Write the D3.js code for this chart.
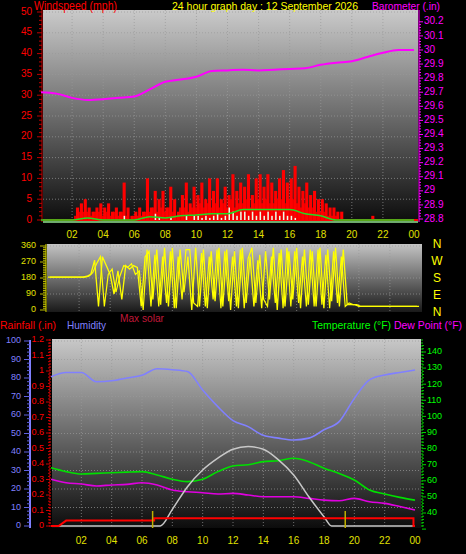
<!DOCTYPE html>
<html><head><meta charset="utf-8">
<script src="https://cdn.jsdelivr.net/npm/d3@7"></script>
<style>body{margin:0;background:#000}svg{display:block}text{font-family:"Liberation Sans",Arial,sans-serif}</style>
</head><body><svg id="c" width="466" height="554"></svg>
<script>
const barometer = [29.70,29.69,29.66,29.645,29.65,29.66,29.67,29.72,29.775,29.79,29.81,29.85,29.855,29.86,29.855,29.86,29.865,29.87,29.895,29.91,29.92,29.95,29.98,30.0,30.0];
const gust = [0,0,0,0, 0,0,0,0, 0,3,4,5, 3,2,3,4, 3,4,2,3, 2,9,3,1, 2,3,2,10, 3,7,5,7, 3,8,5,2, 6,9,4,8, 6,9,5,10, 7,10,5,8, 6,11,7,9, 8,11,6,10, 11,8,11,9, 7,10,12,9, 10,13,8,7, 9,6,7,5, 5,4,3,3, 2,2,0,0, 0,0,0,0, 0,1,0,0, 0,0,0,0, 0,0,0,0, 0,0,0,0];
const gustLow = [0,0,0,0, 0,0,0,0, 0,1,2,2, 2,1,2,2, 1,2,1,2, 1,2,1,0, 1,1,1,2, 2,3,2,3, 2,3,2,1, 3,3,2,3, 3,4,3,4, 3,4,3,4, 3,5,3,4, 4,5,3,4, 5,4,5,4, 4,5,5,4, 5,5,4,3, 4,3,3,2, 2,2,1,1, 1,0,0,0, 0,0,0,0, 0,0,0,0, 0,0,0,0, 0,0,0,0, 0,0,0,0];
const windSpeed = [0,0,0,0, 0,0,0,0, 0,0,0,0, 0,0,0,0, 0,0,0,0, 0,1,0,0, 0,0,0,0, 0,1.5,0.5,0, 0,0.5,0,0, 0,1,0,1, 1,0.5,1,0.5, 1,1.5,0.5,1, 3,2,1,2, 2,1,2,1, 2,1,2,1, 2,1,2,1, 1,0.5,0,0, 0,0,0,0, 0,0,0,0, 0,0,0,0, 0,0,0,0, 0,0,0,0, 0,0,0,0];
const windAvg = [0,0,0,0.5,0,0,0,0.8,0.5,1,1.2,1.5,1.5,2.5,2.5,2.5,2.5,1.5,1,0,0,0,0,0,0];
const direction = [185,185,185,185, 185,185,185,185, 185,185,190,200, 280,20,300,250, 200,90,220,60, 250,230,250,240, 20,300,330,60, 340,30,350,20, 350,10,340,100, 300,0,350,20, 340,10,330,50, 350,20,340,0, 330,10,350,40, 300,20,280,10, 330,60,350,0, 340,20,330,60, 350,10,340,30, 330,20,350,10, 340,50,350,20, 340,30,30,30, 20,20,20,20, 20,20,20,20, 20,20,20,20, 20,20,20,20];
const direction2 = [185,185,185,185, 185,185,185,185, 185,185,190,210, 260,300,20,200, 230,100,190,250, 240,260,200,220, 0,340,20,310, 20,300,40,330, 10,300,60,340, 340,40,20,320, 20,300,60,340, 10,330,50,300, 20,340,10,290, 350,40,310,60, 20,300,40,320, 10,350,20,330, 40,300,20,340, 20,340,30,310, 10,330,40,300, 20,40,30,30, 20,20,20,20, 20,20,20,20, 20,20,20,20, 20,20,20,20];
const humidity = [80.7,83,83,78,78.5,80,81.5,85,84.5,83.5,73.5,64.5,57,53.7,49,47.5,46.5,47.5,52,56.4,69,79,81.6,83,84.3];
const temperature = [68.1,65.7,64.2,64.6,65,65.4,65.7,63.6,61,59.5,61,65.7,69.2,70,71.9,72.5,74,71.9,67.8,64.6,60.5,54.3,51.8,49.7,48];
const dewPoint = [61,58.8,58,56.8,57.4,57.8,58.8,57.4,54.3,53.2,52.6,51.8,52.2,51.2,50.1,50.1,50.1,49.1,48,47.6,49.1,47,46,44,41.9];
const solarT = [0,7.2,8,9,10,11,12,13,14,15,16,17,18,18.5,24];
const solar = [0,0,108,255,363,440,498,515,498,429,331,190,60,0,0];
const rainT = [0,0.5,1,6.8,6.8,23.9,23.9,24];
const rain = [0,0,0.035,0.035,0.05,0.05,0,0];
const sunMarks = [6.7,19.4];
const hourTicks = [2,4,6,8,10,12,14,16,18,20,22,24];
const windTicks = [0,5,10,15,20,25,30,35,40,45,50];
const baroTicks = [28.8,28.9,29.0,29.1,29.2,29.3,29.4,29.5,29.6,29.7,29.8,29.9,30.0,30.1,30.2];
const dirTicks = [0,90,180,270,360];
const compass = ["N","W","S","E","N"];
const humTicks = [0,10,20,30,40,50,60,70,80,90,100];
const rainTicks = [0,0.1,0.2,0.3,0.4,0.5,0.6,0.7,0.8,0.9,1,1.1,1.2];
const tempTicks = [40,50,60,70,80,90,100,110,120,130,140];

const svg = d3.select("#c");
const defs = svg.append("defs");
function grad(id, c1, c2){
  const g = defs.append("linearGradient").attr("id",id).attr("x1",0).attr("y1",0).attr("x2",0).attr("y2",1);
  g.append("stop").attr("offset","0%").attr("stop-color",c1);
  g.append("stop").attr("offset","100%").attr("stop-color",c2);
}
grad("g1","#cacaca","#0c0c0c"); grad("g2","#c4c4c4","#1a1a1a"); grad("g3","#c8c8c8","#0c0c0c");
const hl = h => h===24?"00":String(h).padStart(2,"0");
function txt(x,y,s,fill,size,anchor,len){const t=svg.append("text").attr("x",x).attr("y",y).text(s).attr("fill",fill).attr("font-size",size).attr("text-anchor",anchor||"start").attr("dominant-baseline","middle");
  if(len) t.attr("textLength",len).attr("lengthAdjust","spacingAndGlyphs"); return t;}
function panel(x0,x1,y0,y1,gid,xs,yTicksPx,ly){
  svg.append("rect").attr("x",x0).attr("y",y0).attr("width",x1-x0).attr("height",y1-y0).attr("fill","url(#"+gid+")");
  const g=svg.append("g").attr("stroke","#9a9a9a").attr("stroke-width",1).attr("stroke-dasharray","1,2").attr("opacity",0.7);
  hourTicks.slice(0,11).forEach(h=>g.append("line").attr("x1",xs(h)).attr("x2",xs(h)).attr("y1",y0).attr("y2",y1));
  yTicksPx.forEach(y=>g.append("line").attr("x1",x0).attr("x2",x1).attr("y1",y).attr("y2",y));
  if(ly) hourTicks.forEach(h=>txt(xs(h),ly,hl(h),"#e0e000",10,"middle"));
}
// ---------- top
const xT=d3.scaleLinear().domain([0,24]).range([41,414]);
const yW=d3.scaleLinear().domain([0,50]).range([220,12]);
const yB=d3.scaleLinear().domain([28.8,30.2]).range([219,21.8]);
panel(43,418,10,222,"g1",xT,windTicks.slice(1).map(yW),235);
txt(34,7,"Windspeed (mph)","#ff0000",12,"start",83); txt(172,7,"24 hour graph day : 12 September 2026","#ffff00",11,"start",186); txt(372,7,"Barometer (.in)","#ff00ff",11,"start",68);
windTicks.forEach(v=>txt(32,yW(v),v,"#ff0000",10,"end"));
d3.range(0,51).forEach(v=>svg.append("line").attr("x1",v%5?39:37).attr("x2",42).attr("y1",yW(v)).attr("y2",yW(v)).attr("stroke","#c00000"));
svg.append("line").attr("x1",42).attr("x2",42).attr("y1",10).attr("y2",222).attr("stroke","#c00000");
baroTicks.forEach(v=>txt(424,yB(v),+v.toFixed(1)+"","#ff00ff",10));
svg.append("line").attr("x1",419).attr("x2",419).attr("y1",10).attr("y2",222).attr("stroke","#ff00ff");
d3.range(0,71).forEach(i=>{const v=28.8+i*0.02;svg.append("line").attr("x1",419).attr("x2",i%5?421:423).attr("y1",yB(v)).attr("y2",yB(v)).attr("stroke","#ff00ff");});
const step=(xT(24)-xT(0))/96;
svg.append("line").attr("x1",43).attr("x2",418).attr("y1",yW(0)).attr("y2",yW(0)).attr("stroke","#ff0000").attr("stroke-width",2);
svg.append("path").datum(gustLow).attr("d",d3.area().x((d,i)=>xT(i/4)).y0(yW(0)).y1(d=>yW(d)).curve(d3.curveStep)).attr("fill","#e00000");
svg.append("g").selectAll("rect").data(gust).join("rect").attr("x",(d,i)=>xT(i/4)).attr("width",step*0.8).attr("y",d=>yW(d)).attr("height",d=>yW(0)-yW(d)).attr("fill","#ff0000");
svg.append("g").selectAll("rect").data(windSpeed).join("rect").attr("x",(d,i)=>xT(i/4)+1).attr("width",1.5).attr("y",d=>yW(d)).attr("height",d=>yW(0)-yW(d)).attr("fill","#e8ffe8");
svg.append("path").datum(windAvg).attr("d",d3.line().x((d,i)=>xT(i)).y(d=>yW(d)).curve(d3.curveMonotoneX)).attr("fill","none").attr("stroke","#20dd20").attr("stroke-width",1.5);
svg.append("line").attr("x1",43).attr("x2",418).attr("y1",222).attr("y2",222).attr("stroke","#90e090").attr("stroke-width",1.5);
svg.append("path").datum(barometer).attr("d",d3.line().x((d,i)=>xT(i)).y(d=>yB(d)).curve(d3.curveMonotoneX)).attr("fill","none").attr("stroke","#ff00ff").attr("stroke-width",2);
// ---------- middle
const xM=d3.scaleLinear().domain([0,24]).range([48,421]);
const yD=d3.scaleLinear().domain([0,360]).range([310,246]);
panel(47,422,244,312,"g2",xM,dirTicks.slice(1).map(yD),0);
dirTicks.forEach(v=>txt(36,yD(v),v,"#e0e000",9,"end"));
svg.append("line").attr("x1",46).attr("x2",46).attr("y1",244).attr("y2",312).attr("stroke","#e0e000");
d3.range(0,37).forEach(i=>svg.append("line").attr("x1",i%9?43:40).attr("x2",46).attr("y1",yD(i*10)).attr("y2",yD(i*10)).attr("stroke","#c0c000"));
compass.forEach((c,i)=>txt(437,245+i*17,c,"#ffff00",12,"middle"));
const dline=d3.line().x((d,i)=>xM(i/4)).y(d=>yD(d));
svg.append("path").datum(direction2).attr("d",d3.line().x((d,i)=>xM(i/4+0.125)).y(d=>yD(d))).attr("fill","none").attr("stroke","#ffff00").attr("stroke-width",1.2);
svg.append("path").datum(direction).attr("d",dline).attr("fill","none").attr("stroke","#ffff00").attr("stroke-width",1.3);
// ---------- bottom
const xB=d3.scaleLinear().domain([0,24]).range([51,415]);
const yH=d3.scaleLinear().domain([0,100]).range([526,341]);
const yR=d3.scaleLinear().domain([0,1.2]).range([526,340]);
const yT=d3.scaleLinear().domain([40,140]).range([513,352]);
const yS=d3.scaleLinear().domain([0,1200]).range([526,341]);
panel(52,421,339,528,"g3",xB,humTicks.slice(1).map(yH),541);
txt(120,319,"Max solar","#c01838",11,"start",44); txt(0,326,"Rainfall (.in)","#ff0000",11,"start",56); txt(67,326,"Humidity","#8080ff",11,"start",39);
txt(312,326,"Temperature (°F)","#00ff00",11,"start",79); txt(394,326,"Dew Point (°F)","#ff00ff",11,"start",68);
humTicks.forEach(v=>txt(21,yH(v),v,"#8080ff",9,"end"));
svg.append("line").attr("x1",30).attr("x2",30).attr("y1",340).attr("y2",528).attr("stroke","#8080ff").attr("stroke-width",2);
d3.range(0,51).forEach(i=>svg.append("line").attr("x1",i%5?27:24).attr("x2",30).attr("y1",yH(i*2)).attr("y2",yH(i*2)).attr("stroke","#6060e0"));
rainTicks.forEach(v=>txt(44,yR(v),+v.toFixed(1)+"","#ff0000",9,"end"));
svg.append("line").attr("x1",50).attr("x2",50).attr("y1",339).attr("y2",528).attr("stroke","#ff0000").attr("stroke-dasharray","2,1");
d3.range(0,61).forEach(i=>svg.append("line").attr("x1",i%5?48:46).attr("x2",50).attr("y1",yR(i*0.02)).attr("y2",yR(i*0.02)).attr("stroke","#d00000"));
tempTicks.forEach(v=>txt(427,yT(v),v,"#00ff00",9));
svg.append("line").attr("x1",422).attr("x2",422).attr("y1",339).attr("y2",528).attr("stroke","#00d000").attr("stroke-dasharray","2,1");
d3.range(30,146,2).forEach(v=>svg.append("line").attr("x1",422).attr("x2",v%10?424:426).attr("y1",yT(v)).attr("y2",yT(v)).attr("stroke","#00d000"));
const lineB=(ys)=>d3.line().x((d,i)=>xB(i)).y(d=>ys(d)).curve(d3.curveMonotoneX);
svg.append("path").datum(humidity).attr("d",lineB(yH)).attr("fill","none").attr("stroke","#8080ff").attr("stroke-width",1.6);
svg.append("path").datum(temperature).attr("d",lineB(yT)).attr("fill","none").attr("stroke","#00e000").attr("stroke-width",1.6);
svg.append("path").datum(dewPoint).attr("d",lineB(yT)).attr("fill","none").attr("stroke","#e000e0").attr("stroke-width",1.6);
svg.append("path").datum(solar).attr("d",d3.line().x((d,i)=>xB(solarT[i])).y(d=>yS(d)).curve(d3.curveMonotoneX)).attr("fill","none").attr("stroke","#c8c8c8").attr("stroke-width",1.5);
svg.append("path").datum(rain).attr("d",d3.line().x((d,i)=>xB(rainT[i])).y(d=>yR(d))).attr("fill","none").attr("stroke","#ff0000").attr("stroke-width",2);
sunMarks.forEach(h=>svg.append("line").attr("x1",xB(h)).attr("x2",xB(h)).attr("y1",511).attr("y2",528).attr("stroke","#c0b000").attr("stroke-width",1.5));
</script></body></html>
